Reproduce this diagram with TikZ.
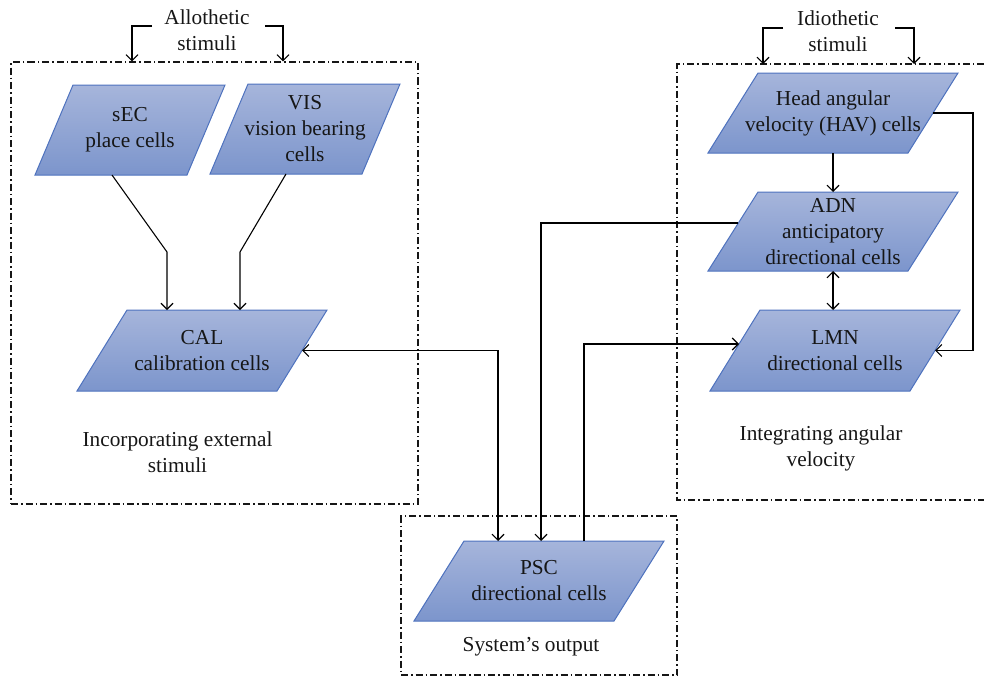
\documentclass[tikz,border=0pt]{standalone}
\usepackage{fontspec}
\setmainfont{Liberation Serif}
\usetikzlibrary{arrows.meta,backgrounds}

\definecolor{paraTop}{RGB}{166,181,219}
\definecolor{paraBot}{RGB}{124,149,204}
\definecolor{paraLine}{RGB}{78,114,190}
\definecolor{ink}{RGB}{22,22,22}

% parallelogram drawn behind a cell node; #2 is the horizontal slant
\newcommand\drawpara[2]{%
  \path[parafill] ([xshift=#2pt]#1.north west) -- (#1.north east)
    -- ([xshift=-#2pt]#1.south east) -- (#1.south west) -- cycle;}

\begin{document}
\begin{tikzpicture}[x=1pt,y=-1pt,
  every node/.style={text=ink,font=\fontsize{21.3}{26}\selectfont},
  cell/.style={inner sep=0pt,outer sep=0pt,align=center},
  bigcell/.style={cell,minimum width=250pt,minimum height=80pt},
  smallcell/.style={cell,minimum width=190pt,minimum height=90pt},
  parafill/.style={draw=paraLine,line width=1pt,top color=paraTop,bottom color=paraBot},
  group/.style={draw=ink,line width=1.1pt,dash pattern=on 7pt off 3pt on 1.5pt off 3pt},
  label/.style={align=center,inner sep=2pt},
  link/.style={draw=black,line width=1.1pt},
  arr/.style={link,-{Straight Barb[length=6pt,width=12pt]}},
  biarr/.style={link,{Straight Barb[length=6pt,width=12pt]}-{Straight Barb[length=6pt,width=12pt]}}]

\useasboundingbox (0,0) rectangle (984,677);

% grouping frames
\node[group,minimum width=407pt,minimum height=442pt,inner sep=0pt] (extbox) at (214.5,283) {};
\node[group,minimum width=276pt,minimum height=159pt,inner sep=0pt] (outbox) at (539,595.5) {};
\coordinate (intNW) at (677,64);
\coordinate (intSW) at (677,500);
\draw[group] (984,64) -- (intNW) -- (intSW) -- (984,500);

% frame captions
\node[label] (extcap) at (177.5,452) {Incorporating external\\stimuli};
\node[label] (intcap) at (821,448) {Integrating angular\\velocity};
\node[label] (outcap) at (531,647) {System’s output};

% stimuli
\node[label] (allo) at (207,30) {Allothetic\\stimuli};
\node[label] (idio) at (838,31) {Idiothetic\\stimuli};

% cells
\node[smallcell] (sEC) at (130,130) {sEC\\place cells};
\node[smallcell] (VIS) at (305,129) {VIS\\vision bearing\\cells};
\node[bigcell,minimum height=81pt] (CAL) at (202,350.5) {CAL\\calibration cells};
\node[bigcell] (HAV) at (833,113) {Head angular\\velocity (HAV) cells};
\node[bigcell,minimum height=79pt] (ADN) at (833,231.5) {ADN\\anticipatory\\directional cells};
\node[bigcell,minimum height=81pt] (LMN) at (835,350.5) {LMN\\directional cells};
\node[bigcell] (PSC) at (539,581) {PSC\\directional cells};

\begin{scope}[on background layer]
  \drawpara{sEC}{38}
  \drawpara{VIS}{38}
  \drawpara{CAL}{50}
  \drawpara{HAV}{50}
  \drawpara{ADN}{50}
  \drawpara{LMN}{50}
  \drawpara{PSC}{50}
\end{scope}

% stimuli inputs
\draw[arr] ([xshift=-55pt,yshift=4pt]allo.center) -| ([xshift=-82.5pt]extbox.north);
\draw[arr] ([xshift=58pt,yshift=4pt]allo.center) -| ([xshift=68.5pt]extbox.north);
\draw[arr] ([xshift=-55pt,yshift=3pt]idio.center) -| ([xshift=86pt]intNW);
\draw[arr] ([xshift=57pt,yshift=3pt]idio.center) -| ([xshift=237pt]intNW);

% external stimuli to calibration
\draw[arr] ([xshift=-18pt]sEC.south) -- ++(55,77) -- ([xshift=-35pt]CAL.north);
\draw[arr] ([xshift=-19pt]VIS.south) -- ++(-46,78) -- ([xshift=38pt]CAL.north);

% calibration <-> output
\draw[biarr] ([xshift=100pt]CAL.center) -| ([xshift=-41pt]PSC.north);

% angular velocity integration
\draw[arr] (HAV.south) -- (ADN.north);
\draw[biarr] (ADN.south) -- (ADN.south |- LMN.north);
\draw[arr] ([xshift=100pt]HAV.center) -- ++(40,0) |- ([xshift=100pt]LMN.center);
\draw[arr] ([xshift=-95pt,yshift=8.5pt]ADN.center) -| ([xshift=2pt]PSC.north);
\draw[arr] ([xshift=45pt]PSC.north) |- ([xshift=-96pt,yshift=6.5pt]LMN.center);

\end{tikzpicture}
\end{document}
